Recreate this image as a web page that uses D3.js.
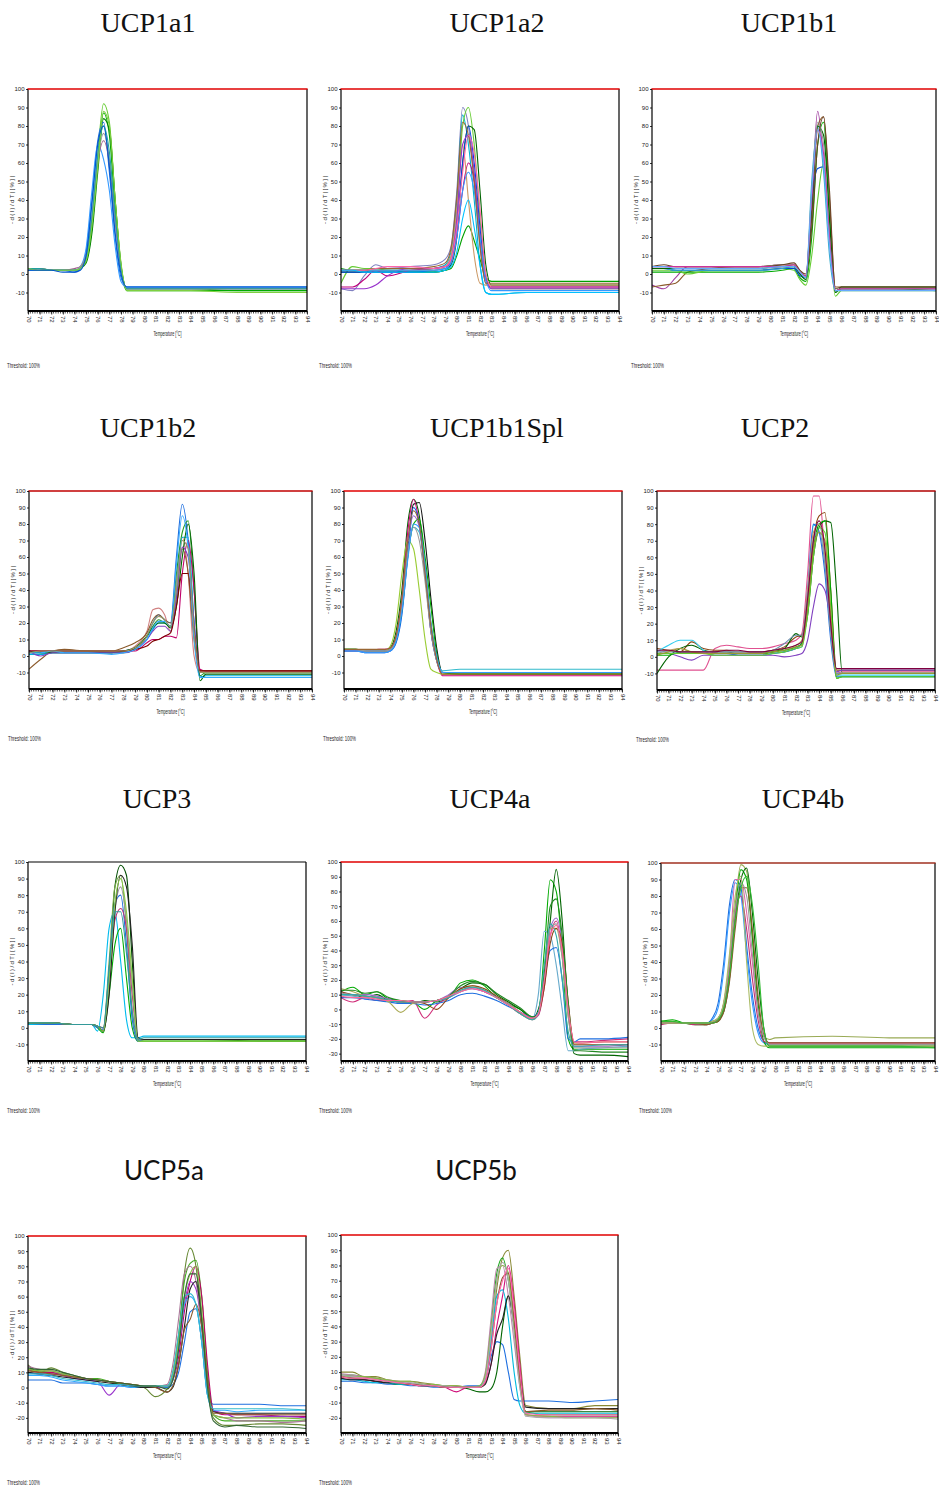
<!DOCTYPE html>
<html><head><meta charset="utf-8">
<script src="https://cdn.jsdelivr.net/npm/d3@7"></script>
<style>body{margin:0;background:#fff}svg{display:block}</style>
</head><body>
<script>
// ---------------- DATA ----------------
const panelNames = ["UCP1a1","UCP1a2","UCP1b1","UCP1b2","UCP1b1Spl","UCP2","UCP3","UCP4a","UCP4b","UCP5a","UCP5b"];
const xTickLabels = [70,71,72,73,74,75,76,77,78,79,80,81,82,83,84,85,86,87,88,89,90,91,92,93,94];
const yTicksA = [100,90,80,70,60,50,40,30,20,10,0,-10];
const yTicksB = [100,90,80,70,60,50,40,30,20,10,0,-10,-20,-30];
const yTicksC = [100,90,80,70,60,50,40,30,20,10,0,-10,-20];

const T_UCP1a1 = [70,71,72,73,74,74.5,75,75.5,76,76.5,77,77.5,78,78.5,80,84,88,94];
const V_UCP1a1 = [
 [3,2,2,2,2,3,8,28,65,92,82,40,5,-8,-8,-8,-9,-9],
 [3,3,2,2,2,3,7,25,60,87,75,35,3,-9,-9,-9,-9,-9],
 [3,2,2,2,2,3,6,22,55,84,78,40,5,-8,-8,-8,-8,-8],
 [2,2,2,2,1,3,12,40,72,82,55,20,-2,-7,-7,-7,-7,-7],
 [2,2,2,2,2,4,14,45,70,62,45,15,-4,-7,-7,-7,-7,-7],
 [3,3,2,2,3,4,10,30,60,72,60,28,2,-8,-8,-8,-8,-8],
 [3,2,2,2,2,4,10,32,62,76,62,30,3,-8,-8,-8,-8,-8],
 [3,3,2,2,2,3,9,30,64,80,66,32,3,-8,-8,-8,-8,-8],
 [3,2,2,2,2,3,7,26,58,88,80,40,6,-9,-9,-9,-10,-10],
 [2,2,2,1,1,2,10,38,70,80,58,22,0,-7,-7,-7,-7,-7]
];
const T_UCP1a2 = [70,71,72,73,74,76,78,79,79.5,80,80.5,81,81.5,82,82.5,83,86,90,94];
const V_UCP1a2 = [
 [-8,-9,-1,5,3,4,5,8,15,45,90,80,50,15,-5,-7,-7,-7,-7],
 [2,2,2,2,2,2,3,5,12,40,86,70,40,5,-10,-11,-10,-10,-10],
 [-5,4,3,3,2,2,3,4,8,30,80,90,70,30,0,-8,-8,-8,-8],
 [1,1,1,1,1,1,1,2,5,20,60,80,78,45,5,-6,-6,-6,-6],
 [3,2,2,2,2,1,1,2,3,10,20,26,18,8,-2,-4,-4,-4,-4],
 [1,1,1,1,1,1,2,3,6,25,60,80,60,25,-2,-7,-7,-7,-7],
 [-7,-7,-3,2,-1,2,3,4,6,20,45,60,50,20,-3,-7,-7,-7,-7],
 [2,2,2,2,2,2,2,4,10,35,70,40,10,-5,-6,-6,-6,-6,-6],
 [-8,-8,-8,-6,-1,3,3,4,8,30,70,75,55,20,-3,-8,-8,-8,-8],
 [2,2,2,2,2,2,2,3,6,20,45,55,45,20,-3,-9,-9,-9,-9],
 [2,2,2,3,3,3,4,6,14,42,82,75,50,15,-5,-5,-5,-5,-5],
 [2,2,2,3,4,4,3,4,8,25,55,75,65,35,0,-7,-7,-7,-7],
 [2,2,1,1,1,1,1,2,4,12,30,40,25,5,-10,-11,-10,-10,-10]
];
const T_UCP1b1 = [70,71,72,73,75,77,79,81,82,82.5,83,83.5,84,84.5,85,85.5,86,90,94];
const V_UCP1b1 = [
 [-6,-8,-2,4,4,4,4,5,4,0,-2,40,88,60,20,-9,-8,-8,-8],
 [-7,-6,-5,1,3,4,4,5,5,1,-1,30,80,85,40,-7,-7,-7,-7],
 [1,1,1,1,1,1,1,2,3,-2,-4,20,70,82,30,-10,-8,-8,-9],
 [2,2,2,0,2,2,2,3,2,-3,-6,10,40,60,20,-12,-9,-9,-9],
 [3,3,2,2,2,2,2,3,3,-1,-2,40,57,58,20,-9,-8,-8,-8],
 [3,3,2,2,2,2,2,3,4,0,-2,50,80,55,10,-9,-8,-8,-8],
 [3,3,3,3,3,3,3,4,4,0,-3,35,80,75,30,-10,-7,-7,-7],
 [4,4,4,4,4,4,4,5,5,2,-1,45,82,70,20,-9,-8,-8,-8],
 [4,5,4,4,4,4,4,5,6,2,0,25,70,85,45,-8,-7,-7,-7],
 [4,4,4,4,4,4,4,4,5,1,-1,40,78,65,20,-9,-8,-8,-8],
 [4,4,3,3,3,3,3,4,4,1,-2,45,78,60,15,-9,-9,-9,-9]
];
const T_UCP1b2 = [70,71,72,73,75,77,78,79,80,80.5,81,81.5,82,82.5,83,83.5,84,84.5,85,88,94];
const V_UCP1b2 = [
 [1,1,2,2,2,2,3,5,12,20,25,22,20,60,92,70,20,-12,-13,-13,-13],
 [3,3,3,3,3,3,3,6,15,28,29,25,15,45,72,50,0,-10,-10,-10,-10],
 [2,2,3,3,3,2,2,5,12,18,22,20,18,50,75,82,40,-12,-10,-10,-10],
 [1,1,2,2,2,2,2,4,10,16,20,20,18,40,72,72,20,-13,-12,-12,-12],
 [3,3,3,3,3,3,3,3,8,10,10,12,12,11,50,70,40,-8,-9,-9,-9],
 [-8,-2,3,4,3,3,5,8,14,22,25,22,20,35,65,50,10,-9,-9,-9,-9],
 [3,2,2,2,2,2,3,5,12,17,20,20,17,30,60,80,50,-15,-11,-11,-11],
 [3,0,2,2,2,2,2,4,10,15,18,18,15,35,66,60,20,-10,-10,-10,-10],
 [3,3,3,3,3,3,3,4,6,9,10,12,14,30,50,50,15,-9,-9,-9,-9],
 [2,2,3,2,2,1,2,4,10,17,21,21,18,55,85,65,10,-13,-13,-13,-13],
 [2,3,3,3,3,3,3,5,12,20,24,22,18,40,70,65,15,-10,-10,-10,-10]
];
const T_UCP1b1Spl = [70,71,72,73,73.5,74,74.5,75,75.5,76,76.5,77,77.5,78,78.5,80,85,90,94];
const V_UCP1b1Spl = [
 [4,4,3,3,3,5,15,40,80,95,85,55,20,0,-10,-11,-11,-11,-11],
 [3,3,3,3,3,4,10,30,65,92,93,70,35,5,-10,-10,-10,-10,-10],
 [3,3,3,4,4,5,12,35,75,95,80,50,15,-3,-12,-12,-12,-12,-12],
 [3,3,2,2,2,3,8,25,60,90,80,50,15,-3,-10,-10,-10,-10,-10],
 [4,4,3,3,3,6,20,50,70,65,40,10,-8,-10,-11,-11,-11,-11,-11],
 [4,4,3,3,3,4,10,28,60,80,83,60,30,2,-10,-11,-11,-11,-11],
 [3,3,3,3,3,4,10,30,62,78,75,50,18,-2,-9,-8,-8,-8,-8],
 [3,3,3,3,3,4,11,32,68,85,78,50,18,-2,-10,-10,-10,-10,-10],
 [4,4,3,3,3,4,10,30,62,78,70,45,15,-3,-10,-10,-10,-10,-10],
 [3,3,2,2,2,3,9,27,58,80,78,55,20,0,-10,-10,-10,-10,-10],
 [4,4,4,4,4,5,12,35,70,88,80,50,18,-2,-11,-11,-11,-11,-11]
];
const T_UCP2 = [70,71,72,73,74,75,76,77,78,79,80,81,82,82.5,83,83.5,84,84.5,85,85.5,86,90,94];
const V_UCP2 = [
 [-8,-8,-8,-8,-8,5,7,6,5,5,6,8,10,14,50,97,97,60,20,-10,-9,-9,-9],
 [5,4,3,9,5,4,4,3,3,3,4,6,12,13,30,70,85,87,40,-8,-8,-8,-8],
 [-10,0,5,7,4,3,3,2,2,2,3,5,14,12,25,60,78,82,81,40,-10,-10,-10],
 [3,7,10,10,4,1,1,1,1,1,2,3,5,6,30,79,80,60,20,-11,-11,-11,-11],
 [2,2,2,2,2,2,2,1,1,1,2,3,5,8,40,80,75,50,10,-12,-12,-12,-12],
 [2,2,0,-2,1,1,1,1,1,1,1,0,1,2,10,30,44,40,20,-9,-8,-8,-8],
 [1,1,3,3,2,2,2,2,2,2,3,4,6,8,30,65,80,82,40,-13,-12,-12,-12],
 [2,4,5,3,3,3,3,3,3,3,4,5,7,10,40,75,80,60,15,-10,-10,-10,-10],
 [3,3,3,3,3,3,3,3,3,3,4,8,13,13,35,70,76,55,15,-10,-10,-10,-10],
 [2,2,2,2,2,1,1,1,1,1,2,3,5,6,25,60,78,75,30,-13,-12,-12,-12],
 [1,3,5,3,2,2,2,2,2,2,3,4,6,7,30,65,75,70,25,-11,-10,-10,-10],
 [4,4,3,3,3,3,4,4,3,3,4,5,7,9,35,70,82,65,20,-7,-7,-7,-7]
];
const T_UCP3 = [70,72,74,75,75.5,76,76.5,77,77.5,78,78.5,79,79.5,80,85,90,94];
const V_UCP3 = [
 [3,3,2,2,2,1,-2,30,85,98,92,40,-8,-7,-7,-8,-8],
 [2,2,2,2,2,-2,20,60,70,40,5,-6,-6,-5,-5,-5,-5],
 [3,3,2,2,2,0,-3,20,50,60,30,0,-8,-8,-8,-8,-8],
 [3,3,2,2,2,1,0,40,85,92,60,10,-8,-7,-7,-7,-7],
 [3,2,2,2,2,0,-1,35,75,80,50,5,-8,-7,-7,-7,-7],
 [3,3,2,2,2,1,0,25,65,72,60,20,-7,-7,-7,-7,-7],
 [3,3,2,2,2,1,-2,25,70,85,65,25,-7,-7,-7,-7,-7],
 [3,3,2,2,2,1,-2,20,70,92,85,50,-6,-7,-7,-7,-7],
 [3,3,2,2,2,1,-2,30,75,90,70,30,-8,-8,-8,-8,-8],
 [3,3,2,2,2,1,0,35,70,70,45,10,-7,-6,-6,-6,-6]
];
const T_UCP4a = [70,71,72,73,74,75,76,77,78,79,80,81,82,83,84,85,86,86.5,87,87.5,88,88.5,89,89.5,90,92,94];
const V_UCP4a = [
 [12,15,10,12,7,6,5,0,6,8,18,20,16,8,4,0,-5,-3,40,88,80,40,-20,-27,-27,-27,-27],
 [10,10,8,10,6,5,4,6,5,8,14,18,17,10,5,0,-6,0,20,60,95,60,0,-30,-31,-31,-32],
 [8,5,8,6,6,5,6,-6,3,8,12,15,12,8,3,-3,-6,-4,15,50,60,40,0,-22,-22,-21,-20],
 [10,9,8,7,6,5,5,5,6,8,12,14,12,8,3,-2,-6,10,53,50,30,0,-28,-28,-27,-26,-25],
 [8,8,7,6,5,4,4,3,4,6,10,11,9,6,2,-2,-5,-2,20,40,42,20,-20,-22,-20,-20,-19],
 [12,10,10,9,7,5,5,5,6,10,15,14,12,8,3,-3,-7,-4,20,55,62,45,0,-25,-25,-25,-24],
 [14,12,9,8,5,-2,4,5,6,9,14,16,13,8,3,-3,-7,-3,25,55,55,35,-5,-23,-23,-22,-22],
 [12,10,9,8,6,5,5,4,0,8,14,16,14,9,4,-2,-6,-3,15,45,55,45,5,-24,-24,-24,-24],
 [11,10,9,8,6,5,5,5,6,9,13,15,13,8,4,-2,-6,-3,25,55,58,35,-5,-26,-26,-26,-26],
 [13,13,11,12,8,6,5,5,6,9,16,19,17,11,6,1,-5,-3,25,70,75,50,5,-28,-28,-29,-29],
 [10,10,9,8,6,5,5,5,6,8,13,15,13,8,3,-3,-7,-2,30,58,50,20,-15,-25,-25,-24,-24],
 [9,8,8,7,6,6,5,5,6,9,12,14,12,8,3,-2,-6,-3,20,50,57,40,0,-22,-23,-22,-22]
];
const T_UCP4b = [70,71,72,73,74,74.5,75,75.5,76,76.5,77,77.5,78,78.5,79,79.5,80,85,90,94];
const V_UCP4b = [
 [3,3,3,3,3,6,15,40,75,90,85,50,20,0,-8,-10,-10,-10,-10,-10],
 [3,3,3,3,3,5,12,35,70,88,80,45,15,-3,-9,-10,-10,-10,-10,-10],
 [4,4,3,3,3,4,6,15,40,75,99,95,55,15,-5,-7,-6,-5,-6,-6],
 [4,5,3,2,2,3,4,12,35,70,96,90,55,15,-8,-12,-12,-12,-12,-12],
 [3,3,3,3,3,4,5,10,30,65,90,97,70,30,0,-11,-11,-11,-11,-11],
 [2,3,3,2,2,3,5,12,35,70,80,60,30,5,-8,-9,-9,-9,-9,-9],
 [3,3,3,3,3,3,5,15,40,90,90,70,40,10,-5,-9,-9,-9,-9,-9],
 [3,3,3,3,2,3,4,10,28,60,85,85,60,20,-4,-9,-9,-9,-9,-9],
 [3,3,3,3,3,4,6,15,40,72,88,80,45,10,-5,-10,-10,-10,-10,-10],
 [3,3,3,3,3,4,6,16,45,80,92,40,0,-10,-11,-11,-11,-11,-11,-11],
 [4,4,3,3,3,3,5,12,32,65,85,92,75,40,0,-11,-11,-11,-11,-12]
];
const T_UCP5a = [70,71,72,73,74,75,76,77,78,79,80,81,82,82.5,83,83.5,84,84.5,85,85.5,86,87,88,90,92,94];
const V_UCP5a = [
 [15,10,13,10,8,6,5,4,2,1,0,-6,-1,5,30,75,92,80,40,0,-20,-25,-25,-24,-24,-25],
 [12,11,10,9,7,6,6,4,2,1,1,1,0,10,35,70,82,84,60,10,-18,-22,-22,-22,-22,-22],
 [5,5,5,3,3,3,2,1,1,0,0,1,0,2,10,30,50,52,30,-5,-11,-11,-11,-11,-12,-12],
 [12,10,10,8,7,6,5,4,3,2,1,1,1,5,20,50,70,80,60,15,-15,-18,-18,-18,-19,-19],
 [10,9,9,8,6,5,4,-5,2,1,1,0,1,6,25,55,70,65,40,5,-15,-17,-20,-19,-19,-20],
 [14,12,11,9,7,6,5,4,3,2,1,1,2,15,45,75,80,70,40,0,-18,-20,-22,-22,-23,-22],
 [8,8,7,5,4,3,2,1,1,0,0,1,1,5,25,55,60,55,30,-5,-15,-15,-16,-15,-15,-15],
 [10,9,8,7,6,5,4,3,2,1,0,0,-3,0,15,40,65,70,45,5,-16,-17,-17,-17,-17,-17],
 [12,11,11,9,7,6,5,4,3,2,1,1,1,8,30,60,75,80,50,5,-18,-20,-20,-20,-20,-21],
 [11,10,9,8,7,6,5,4,3,2,1,0,-3,1,15,38,45,55,40,5,-17,-17,-18,-18,-18,-18],
 [9,9,8,6,5,4,3,2,2,1,1,1,1,10,35,60,62,55,30,-5,-14,-14,-14,-14,-14,-15],
 [13,12,12,10,8,6,5,4,3,2,1,1,-1,5,25,60,75,75,45,0,-22,-26,-25,-26,-26,-27]
];
const T_UCP5b = [70,71,72,73,74,75,76,77,78,79,80,81,82,82.5,83,83.5,84,84.5,85,85.5,86,88,90,92,94];
const V_UCP5b = [
 [10,10,7,7,5,4,4,3,2,1,1,0,0,5,30,65,85,90,60,20,-12,-14,-14,-12,-12],
 [4,4,3,3,2,2,1,1,0,0,0,1,1,5,20,30,28,10,-8,-9,-9,-9,-10,-9,-8],
 [7,6,5,4,3,2,2,1,1,0,0,-1,-3,-3,-1,10,40,60,40,5,-16,-16,-16,-16,-16],
 [6,5,5,4,3,3,2,1,1,0,-3,0,0,3,15,40,60,80,55,15,-18,-19,-19,-19,-19],
 [8,8,7,6,4,3,2,2,1,1,0,0,0,8,40,75,85,70,40,5,-16,-18,-18,-18,-18],
 [9,8,7,6,5,4,3,2,1,0,0,0,1,10,45,78,80,60,30,0,-18,-20,-20,-20,-20],
 [5,5,4,3,3,2,2,1,1,0,0,0,1,6,30,60,64,45,10,-12,-17,-17,-17,-17,-17],
 [6,5,5,4,3,3,2,1,1,0,0,0,0,2,15,35,45,60,40,8,-13,-14,-14,-14,-14],
 [8,7,7,6,5,4,4,2,2,1,1,0,1,8,38,70,80,75,40,3,-18,-19,-20,-20,-20],
 [7,6,6,5,4,3,2,2,1,0,0,0,0,4,25,55,72,75,45,5,-16,-15,-15,-14,-15],
 [8,7,6,5,4,3,3,2,1,1,0,0,0,6,35,70,82,70,35,0,-19,-20,-20,-20,-21],
 [7,6,6,5,4,3,2,1,1,0,0,0,0,4,25,55,70,78,50,10,-17,-18,-18,-18,-18]
];

// ---------------- STYLES / LAYOUT ----------------
const COLORS = {
 UCP1a1:["#66cc33","#00aa00","#008000","#1e6fe0","#3399ff","#a05c8c","#999999","#20a0a0","#7fd040","#0055cc"],
 UCP1a2:["#8080c0","#00b0d0","#66cc33","#006400","#00a000","#0044dd","#c0007a","#cc9966","#9933cc","#3399ff","#996633","#ff66aa","#00c0ff"],
 UCP1b1:["#a040a0","#8b5a2b","#00aa00","#66cc33","#0044dd","#33aacc","#006400","#999999","#6b4226","#cc3399","#66aaff"],
 UCP1b2:["#1e6fe0","#d08080","#229922","#00b0e0","#c0006a","#8b5a2b","#006400","#8040c0","#800000","#33aaff","#999966"],
 UCP1b1Spl:["#006400","#111111","#d0007a","#0055dd","#99cc33","#00aa00","#33bbcc","#9966cc","#999999","#3399ff","#996633"],
 UCP2:["#e05090","#8b4513","#006400","#33ccee","#1e6fe0","#8040c0","#00aa00","#bb9966","#7090b0","#66cc33","#999933","#800040"],
 UCP3:["#004d00","#00bbee","#00aa00","#77aa44","#1e6fe0","#c03070","#999999","#222222","#88cc44","#339999"],
 UCP4a:["#00aa00","#006400","#d0307a","#66aacc","#1e6fe0","#9966cc","#aaaa55","#8b4513","#999999","#228822","#33aaaa","#ff6699"],
 UCP4b:["#1e6fe0","#3399ff","#99aa55","#00aa00","#006400","#c03070","#dd66aa","#8b5a2b","#999999","#aabb66","#33bb33"],
 UCP5a:["#668833","#44aa22","#1e6fe0","#c0006a","#9933cc","#aa7799","#33aaff","#222222","#88bb44","#8b5a2b","#33bbcc","#336633"],
 UCP5b:["#888833","#1e6fe0","#006400","#d0107a","#22aa22","#bb88aa","#00bbdd","#222222","#88bb44","#8b5a2b","#aaaaaa","#ff66aa"]
};
const DATA = {
 UCP1a1:[T_UCP1a1,V_UCP1a1,yTicksA], UCP1a2:[T_UCP1a2,V_UCP1a2,yTicksA], UCP1b1:[T_UCP1b1,V_UCP1b1,yTicksA],
 UCP1b2:[T_UCP1b2,V_UCP1b2,yTicksA], UCP1b1Spl:[T_UCP1b1Spl,V_UCP1b1Spl,yTicksA], UCP2:[T_UCP2,V_UCP2,yTicksA],
 UCP3:[T_UCP3,V_UCP3,yTicksA], UCP4a:[T_UCP4a,V_UCP4a,yTicksB], UCP4b:[T_UCP4b,V_UCP4b,yTicksA],
 UCP5a:[T_UCP5a,V_UCP5a,yTicksC], UCP5b:[T_UCP5b,V_UCP5b,yTicksC]
};
const LAYOUT = {
 UCP1a1:{box:[28,89,307,311],ymin:-20,title:[148,32],thr:7,red:"#e00000",serif:true},
 UCP1a2:{box:[341,89,619,311],ymin:-20,title:[497,32],thr:319,red:"#e00000",serif:true},
 UCP1b1:{box:[652,89,936,311],ymin:-20,title:[789,32],thr:631,red:"#e00000",serif:true},
 UCP1b2:{box:[29,491,312,689],ymin:-20,title:[148,437],thr:8,red:"#c00000",serif:true},
 UCP1b1Spl:{box:[344,491,622,689],ymin:-20,title:[497,437],thr:323,red:"#e00000",serif:true},
 UCP2:{box:[657,491,935,690],ymin:-20,title:[775,437],thr:636,red:"#b00000",serif:true},
 UCP3:{box:[28,862,306,1061],ymin:-20,title:[157,808],thr:7,red:null,serif:true},
 UCP4a:{box:[341,862,628,1061],ymin:-35,title:[490,808],thr:319,red:"#e00000",serif:true},
 UCP4b:{box:[661,863,935,1061],ymin:-20,title:[803,808],thr:639,red:"#a03020",serif:true},
 UCP5a:{box:[28,1236,306,1433],ymin:-30,title:[164,1180],thr:7,red:"#e00000",serif:false},
 UCP5b:{box:[341,1235,618,1433],ymin:-30,title:[476,1180],thr:319,red:"#e00000",serif:false}
};

// ---------------- DRAW ----------------
const svg = d3.select("body").append("svg").attr("width",939).attr("height",1486);
svg.append("rect").attr("width",939).attr("height",1486).attr("fill","#fff");
const smallFont = "'Liberation Sans Narrow','Arial Narrow','Liberation Sans',Arial,sans-serif";

panelNames.forEach((name,i)=>{
  const [T,V,yTicks] = DATA[name];
  const L = LAYOUT[name];
  const [x0,y0,x1,y1] = L.box;
  const x = d3.scaleLinear().domain([70,94]).range([x0,x1]);
  const y = d3.scaleLinear().domain([L.ymin,100]).range([y1,y0]);
  const g = svg.append("g");

  g.append("text").attr("x",L.title[0]).attr("y",L.title[1]).attr("text-anchor","middle")
    .style("font-family", L.serif ? "'Liberation Serif','Times New Roman',serif" : "Lato,'Open Sans',sans-serif")
    .style("font-size", L.serif ? "28px" : "26px").attr("fill","#111").text(name);

  const cid = "clip"+i;
  g.append("clipPath").attr("id",cid).append("rect").attr("x",x0).attr("y",y0).attr("width",x1-x0).attr("height",y1-y0);

  const line = d3.line().x(d=>x(d[0])).y(d=>y(d[1])).curve(d3.curveMonotoneX);
  const cg = g.append("g").attr("clip-path",`url(#${cid})`);
  V.forEach((vals,k)=>{
    const pts = T.map((t,j)=>[t,vals[j]]);
    cg.append("path").attr("d",line(pts)).attr("fill","none")
      .attr("stroke",COLORS[name][k % COLORS[name].length]).attr("stroke-width",1.1);
  });

  // frame
  const fr = g.append("g").attr("stroke","#000").attr("stroke-width",1.2);
  fr.append("line").attr("x1",x0).attr("x2",x0).attr("y1",y0).attr("y2",y1);
  fr.append("line").attr("x1",x1).attr("x2",x1).attr("y1",y0).attr("y2",y1);
  if (!L.red) fr.append("line").attr("x1",x0).attr("x2",x1).attr("y1",y0).attr("y2",y0);
  g.append("line").attr("x1",x0).attr("x2",x1).attr("y1",y1).attr("y2",y1).attr("stroke","#000").attr("stroke-width",2.2);
  if (L.red) g.append("line").attr("x1",x0-0.6).attr("x2",x1+0.6).attr("y1",y(100)).attr("y2",y(100))
      .attr("stroke",L.red).attr("stroke-width",1.5);

  const minor = x.ticks(120);
  g.append("g").selectAll("line").data(minor).join("line")
    .attr("x1",d=>x(d)).attr("x2",d=>x(d)).attr("y1",y1).attr("y2",y1+2.5)
    .attr("stroke","#000").attr("stroke-width",0.7);

  const xa = g.append("g").attr("transform",`translate(0,${y1})`)
    .call(d3.axisBottom(x).tickValues(xTickLabels).tickSize(3.5).tickFormat(d=>d));
  xa.select(".domain").remove();
  xa.selectAll(".tick line").attr("stroke","#000").attr("stroke-width",0.8);
  xa.selectAll(".tick text").attr("transform","rotate(90)").attr("x",5).attr("y",0).attr("dy","0.32em")
    .style("text-anchor","start").style("font-family",smallFont).style("font-size","6px").attr("fill","#222");

  const ya = g.append("g").attr("transform",`translate(${x0},0)`)
    .call(d3.axisLeft(y).tickValues(yTicks).tickSize(2).tickPadding(1.5).tickFormat(d=>d));
  ya.select(".domain").remove();
  ya.selectAll(".tick line").attr("stroke","#000").attr("stroke-width",0.8);
  ya.selectAll(".tick text").style("font-family",smallFont).style("font-size","6px").attr("fill","#222");

  const cy = (y0+y1)/2;
  g.append("text").attr("transform",`translate(${x0-14},${cy}) rotate(-90)`).attr("text-anchor","middle")
    .style("font-family",smallFont).style("font-size","6px").attr("fill","#222")
    .attr("textLength",48).attr("lengthAdjust","spacing")
    .text("- d ( I ) / d T  | [ % ] |");

  g.append("text").attr("x",(x0+x1)/2).attr("y",y1+25).attr("text-anchor","middle")
    .style("font-family",smallFont).style("font-size","6.5px").attr("fill","#222")
    .attr("textLength",28).attr("lengthAdjust","spacingAndGlyphs").text("Temperature [°C]");

  g.append("text").attr("x",L.thr).attr("y",y1+ (i<3?57:52)).attr("text-anchor","start")
    .style("font-family",smallFont).style("font-size","6.5px").attr("fill","#222")
    .attr("textLength",33).attr("lengthAdjust","spacingAndGlyphs").text("Threshold:  100%");
});
</script>
</body></html>
